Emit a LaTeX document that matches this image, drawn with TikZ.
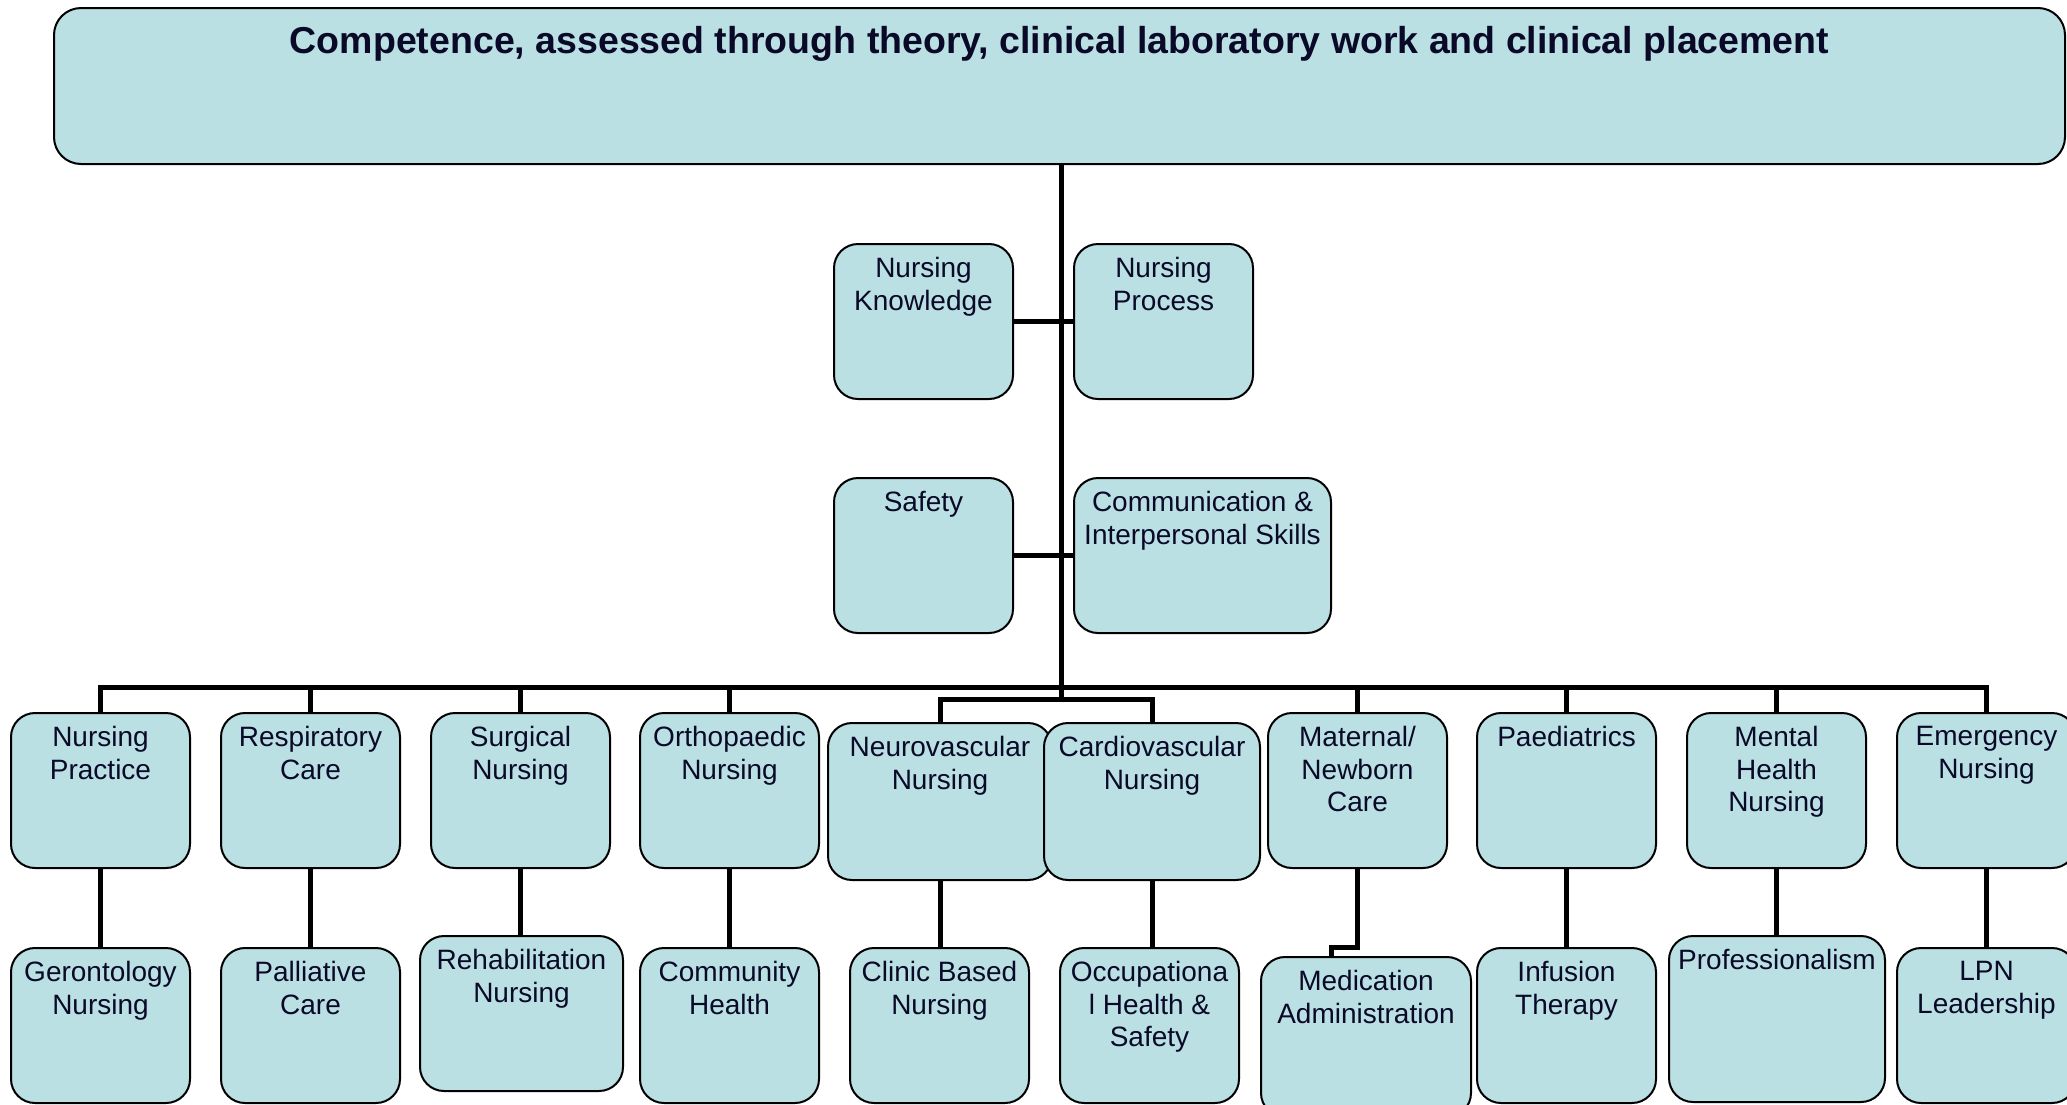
\documentclass[tikz,border=0pt]{standalone}
\usepackage{fontspec}
\setmainfont{Liberation Sans}

\definecolor{boxfill}{RGB}{186,224,228}
\definecolor{ink}{RGB}{10,10,40}

\tikzset{
  blk/.style={draw=black, line width=2pt, fill=boxfill, rounded corners=24pt,
    anchor=north west, inner sep=0pt, minimum width=179pt, minimum height=155pt},
  txt/.style={anchor=north, align=center, inner sep=0pt, text=ink,
    font=\fontsize{28}{32.6}\selectfont, yshift=-14pt},
  link/.style={line width=5pt}
}

\begin{document}
\begin{tikzpicture}[x=1pt,y=-1pt]
\useasboundingbox (0,0) rectangle (2067,1104);
\clip (0,0) rectangle (2067,1104);

\coordinate (hub) at (1061,687);
\coordinate (hub2) at (1061,699);

% connectors first
\draw[link] (1061,150) -- (hub2);

\node[blk, minimum width=2011pt, minimum height=156pt, rounded corners=27pt,
  label={[txt, font=\bfseries\fontsize{37.5}{42}\selectfont, yshift=-5pt]north:{Competence, assessed through theory, clinical laboratory work and clinical placement}}]
  (top) at (53,7) {};

% middle
\node[blk, label={[txt]north:Nursing\\Knowledge}] (know) at (833,243) {};
\node[blk, label={[txt]north:Nursing\\Process}] (proc) at (1073,243) {};
\node[blk, label={[txt]north:Safety}] (safe) at (833,477) {};
\node[blk, minimum width=257pt, label={[txt]north:Communication \&\\Interpersonal Skills}] (comm) at (1073,477) {};

\draw[link] (know.east) -- (proc.west);
\draw[link] (safe.east) -- (comm.west);

% first row
\node[blk, label={[txt]north:Nursing\\Practice}] (np) at (10,712) {};
\node[blk, label={[txt]north:Respiratory\\Care}] (rc) at (220,712) {};
\node[blk, label={[txt]north:Surgical\\Nursing}] (sn) at (430,712) {};
\node[blk, label={[txt]north:Orthopaedic\\Nursing}] (on) at (639,712) {};
\node[blk, minimum width=224pt, minimum height=157pt, label={[txt]north:Neurovascular\\Nursing}] (neuro) at (827,722) {};
\node[blk, minimum width=216pt, minimum height=157pt, label={[txt]north:Cardiovascular\\Nursing}] (cardio) at (1043,722) {};
\node[blk, label={[txt]north:Maternal/\\Newborn\\Care}] (mat) at (1267,712) {};
\node[blk, label={[txt]north:Paediatrics}] (paed) at (1476,712) {};
\node[blk, label={[txt]north:Mental\\Health\\Nursing}] (mh) at (1686,712) {};
\node[blk, label={[txt]north:Emergency\\Nursing}] (em) at (1896,712) {};

% second row
\node[blk, label={[txt]north:Gerontology\\Nursing}] (ger) at (10,947) {};
\node[blk, label={[txt]north:Palliative\\Care}] (pal) at (220,947) {};
\node[blk, minimum width=203pt, label={[txt]north:Rehabilitation\\Nursing}] (reh) at (419,935) {};
\node[blk, label={[txt]north:Community\\Health}] (com) at (639,947) {};
\node[blk, label={[txt]north:Clinic Based\\Nursing}] (cli) at (849,947) {};
\node[blk, label={[txt]north:Occupationa\\l Health \&\\Safety}] (occ) at (1059,947) {};
\node[blk, minimum width=210pt, minimum height=160pt, label={[txt]north:Medication\\Administration}] (med) at (1260,956) {};
\node[blk, label={[txt]north:Infusion\\Therapy}] (inf) at (1476,947) {};
\node[blk, minimum width=216pt, minimum height=166pt, label={[txt]north:Professionalism}] (prof) at (1668,935) {};
\node[blk, label={[txt]north:LPN\\Leadership}] (lpn) at (1896,947) {};

% bus
\draw[link] (np.north) -- (np.north |- hub) -- (em.north |- hub) -- (em.north);
\foreach \n in {rc,sn,on,mat,paed,mh}
  \draw[link] (\n.north) -- (\n.north |- hub);
\draw[link] (neuro.north) -- (neuro.north |- hub2) -- (cardio.north |- hub2) -- (cardio.north);

% second level
\draw[link] (np.south) -- (ger.north);
\draw[link] (rc.south) -- (pal.north);
\draw[link] (sn.south) -- (sn.south |- reh.north);
\draw[link] (on.south) -- (com.north);
\draw[link] (neuro.south) -- (neuro.south |- cli.north);
\draw[link] (cardio.south) -- (cardio.south |- occ.north);
\coordinate (medjog) at (1331,947);
\draw[link] (mat.south) |- (medjog) -- (medjog |- med.north);
\draw[link] (paed.south) -- (inf.north);
\draw[link] (mh.south) -- (mh.south |- prof.north);
\draw[link] (em.south) -- (lpn.north);

\end{tikzpicture}
\end{document}
